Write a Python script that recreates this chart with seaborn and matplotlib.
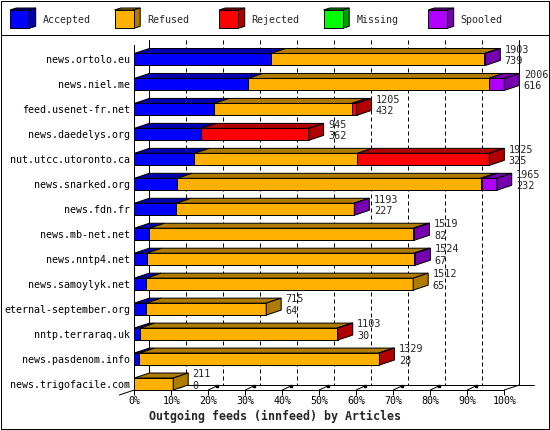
import numpy as np
import pandas as pd
import matplotlib
matplotlib.use("Agg")
import matplotlib.pyplot as plt
from matplotlib.patches import Rectangle, Polygon
import seaborn as sns

# Data (articles per outgoing feed)
hosts = ["news.ortolo.eu", "news.niel.me", "feed.usenet-fr.net", "news.daedelys.org",
         "nut.utcc.utoronto.ca", "news.snarked.org", "news.fdn.fr", "news.mb-net.net",
         "news.nntp4.net", "news.samoylyk.net", "eternal-september.org",
         "nntp.terraraq.uk", "news.pasdenom.info", "news.trigofacile.com"]
accepted = [739, 616, 432, 362, 325, 232, 227, 82, 67, 65, 64, 30, 28, 0]
refused = [1159, 1305, 746, 0, 885, 1645, 965, 1431, 1449, 1447, 651, 1070, 1298, 211]
rejected = [0, 0, 27, 583, 715, 10, 0, 0, 0, 0, 0, 3, 3, 0]
missing = [0, 0, 0, 0, 0, 0, 0, 0, 0, 0, 0, 0, 0, 0]
spooled = [5, 85, 0, 0, 0, 78, 1, 6, 8, 0, 0, 0, 0, 0]

categories = ["Accepted", "Refused", "Rejected", "Missing", "Spooled"]
front_colors = ["#0000FF", "#FFB000", "#FF0000", "#00FF00", "#B000FF"]
dark_colors = ["#0000B0", "#B07C00", "#B00000", "#00A000", "#7600B0"]
xticks = list(range(0, 101, 10))

sns.set_style("white")
plt.rcParams["font.family"] = ["DejaVu Sans Mono"]
plt.rcParams["font.size"] = 7.2

counts = np.array([accepted, refused, rejected, missing, spooled], dtype=float).T
totals = counts.sum(axis=1)
pct = counts / totals.max() * 100
cum = np.cumsum(pct, axis=1)

# pseudo-3D depth: 15 px right, 5 px up
DX = 15 / 3.7
DY = 0.2
BW = 0.48
LW = 0.72
n = len(hosts)
floor = n - 1 + BW / 2
top_front = -0.58
top_back = top_front - DY
back_floor = floor - DY

fig = plt.figure(figsize=(5.5, 4.3), dpi=100)
ax = fig.add_axes([134.3 / 550, 40 / 430, 370 / 550, 345 / 430])

# stacked front faces: cumulative bars, widest first
for k in range(len(categories) - 1, -1, -1):
    df = pd.DataFrame({"host": hosts, "value": cum[:, k]})
    sns.barplot(data=df, x="value", y="host", order=hosts, orient="h",
                color=front_colors[k], saturation=1, width=BW,
                edgecolor="black", linewidth=LW, ax=ax, zorder=3)

# top and side faces
for i in range(n):
    top = i - BW / 2
    start = 0.0
    for k in range(len(categories)):
        end = cum[i, k]
        if counts[i, k] > 0:
            ax.fill([start, end, end + DX, start + DX], [top, top, top - DY, top - DY],
                    facecolor=dark_colors[k], edgecolor="black", lw=LW,
                    zorder=3, clip_on=False)
        start = end
    last = max(k for k in range(len(categories)) if counts[i, k] > 0)
    T = cum[i, -1]
    ax.fill([T, T + DX, T + DX, T], [top, top - DY, top + BW - DY, top + BW],
            facecolor=dark_colors[last], edgecolor="black", lw=LW,
            zorder=3, clip_on=False)
    ax.text(T + DX + 1.2, i - 0.39, f"{int(totals[i])}", ha="left", va="center",
            fontsize=7.3, zorder=4, clip_on=False)
    ax.text(T + DX + 1.2, i + 0.06, f"{int(counts[i, 0])}", ha="left", va="center",
            fontsize=7.3, zorder=4, clip_on=False)

# back wall, dashed grid and floor
for x in xticks[1:-1]:
    ax.plot([x + DX, x + DX], [top_back, back_floor], color="black", lw=LW,
            ls=(0, (4, 3)), zorder=1, clip_on=False)
    ax.plot([x, x + 0.6 * DX], [floor, floor - 0.85 * DY], color="black", lw=LW,
            zorder=1, clip_on=False)
    ax.plot([x + 0.6 * DX], [floor - 0.85 * DY], marker="s", ms=1.8, color="black",
            zorder=1, clip_on=False)
for x in [DX, 100 + DX]:
    ax.plot([x, x], [top_back, back_floor], color="black", lw=LW, zorder=1, clip_on=False)
ax.plot([DX, 100 + 2 * DX], [back_floor, back_floor], color="black", lw=LW, zorder=1, clip_on=False)
ax.plot([100, 100 + DX], [floor, back_floor], color="black", lw=LW, zorder=1, clip_on=False)
ax.plot([-DX, 0], [floor + DY, floor], color="black", lw=LW, zorder=1, clip_on=False)

ax.set_xlim(0, 100)
ax.set_ylim(floor, top_front)
ax.set_xticks(xticks, labels=[f"{t}%" for t in xticks])
ax.tick_params(axis="x", bottom=True, length=3.6, width=LW, pad=1, labelsize=7.2, colors="black")
ax.tick_params(axis="y", left=False, length=0, pad=3.1, labelsize=7.2, colors="black")
ax.set_xlabel("")
ax.set_ylabel("")
for s in ["top", "right"]:
    ax.spines[s].set_visible(False)
for s in ["left", "bottom"]:
    ax.spines[s].set_color("black")
    ax.spines[s].set_linewidth(LW)

# frame, legend strip and axis title in pixel coordinates
ov = fig.add_axes([0, 0, 1, 1], zorder=-1)
ov.set_xlim(0, 550)
ov.set_ylim(430, 0)
ov.axis("off")
ov.add_patch(Rectangle((0.5, 0.5), 548, 428, fill=False, lw=LW, edgecolor="black"))
ov.plot([0.5, 548.5], [35, 35], color="black", lw=LW)
for j, (lab, fc, dc) in enumerate(zip(categories, front_colors, dark_colors)):
    x0 = 10 + 104.5 * j
    ov.add_patch(Polygon([(x0, 10), (x0 + 19.3, 10), (x0 + 25.7, 8), (x0 + 6.4, 8)],
                         facecolor=dc, edgecolor="black", lw=LW))
    ov.add_patch(Polygon([(x0 + 19.3, 10), (x0 + 25.7, 8), (x0 + 25.7, 26.3), (x0 + 19.3, 28.3)],
                         facecolor=dc, edgecolor="black", lw=LW))
    ov.add_patch(Rectangle((x0, 10), 19.3, 18.3, facecolor=fc, edgecolor="black", lw=LW))
    ov.text(x0 + 32.7, 20, lab, ha="left", va="center", fontsize=7.2)

fig.text(0.5, 1 - 416.7 / 430, "Outgoing feeds (innfeed) by Articles",
         ha="center", va="center", fontsize=8.4, fontweight="bold")

fig.savefig("out.png", dpi=100, facecolor="white")
